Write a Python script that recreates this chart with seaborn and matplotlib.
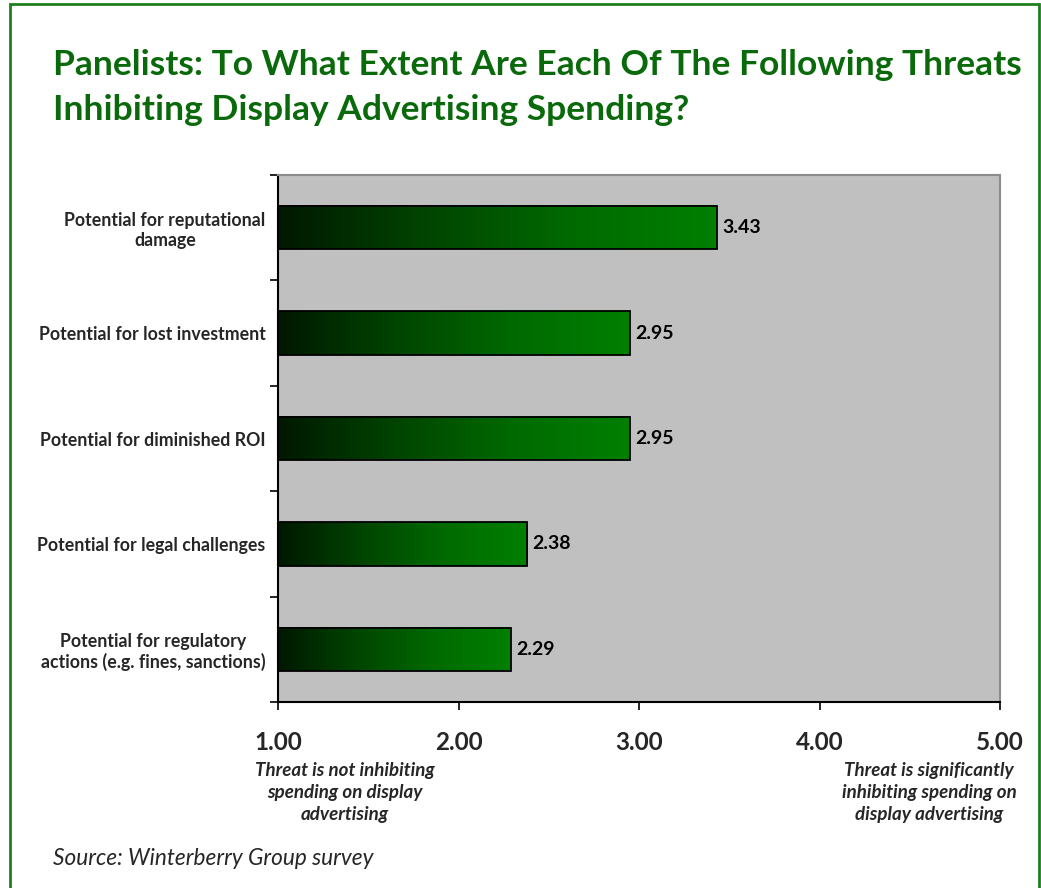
import matplotlib
matplotlib.use("Agg")
import matplotlib.pyplot as plt
import seaborn as sns
import numpy as np
import pandas as pd
from matplotlib.colors import LinearSegmentedColormap
from matplotlib.patches import Rectangle

categories = [
    "Potential for reputational\ndamage",
    "Potential for lost investment",
    "Potential for diminished ROI",
    "Potential for legal challenges",
    "Potential for regulatory\nactions (e.g. fines, sanctions)",
]
values = [3.43, 2.95, 2.95, 2.38, 2.29]
x_ticks = [1.0, 2.0, 3.0, 4.0, 5.0]
x_tick_labels = ["1.00", "2.00", "3.00", "4.00", "5.00"]
value_labels = ["3.43", "2.95", "2.95", "2.38", "2.29"]
title = ("Panelists: To What Extent Are Each Of The Following Threats\n"
         "Inhibiting Display Advertising Spending?")
low_note = "Threat is not inhibiting\nspending on display\nadvertising"
high_note = "Threat is significantly\ninhibiting spending on\ndisplay advertising"
source = "Source: Winterberry Group survey"

sns.set_theme(style="white")
plt.rcParams['font.family'] = ['Lato', 'DejaVu Sans']

W, H = 1041, 888
fig = plt.figure(figsize=(W / 100, H / 100), dpi=100)
fig.patch.set_facecolor("white")

ax = fig.add_axes([278 / W, 1 - 702 / H, (1000 - 278) / W, (702 - 175) / H])
df = pd.DataFrame({"cat": categories, "val": values})
sns.barplot(data=df, x="val", y="cat", ax=ax, orient="h", width=0.41,
            color="green", edgecolor="black", linewidth=1.3, zorder=3)

ax.set_facecolor("#c0c0c0")
cmap = LinearSegmentedColormap.from_list("g", ["#001800", "#004400", "#006a00", "#008000"])
grad = np.linspace(0, 1, 256).reshape(1, -1)
for p, v in zip(ax.patches, values):
    y0 = p.get_y()
    h = p.get_height()
    p.set_facecolor("none")
    ax.imshow(grad, cmap=cmap, extent=[1, v, y0 + h, y0], aspect="auto",
              zorder=2, interpolation="bilinear")

ax.set_xlim(1, 5)
ax.set_ylim(4.5, -0.5)

labels = ax.bar_label(ax.containers[0], labels=value_labels, padding=4,
                      fontsize=14, fontweight="bold", color="black")

ax.set_xticks(x_ticks)
ax.set_xticklabels(x_tick_labels, fontsize=17.5, fontweight="bold")
ax.tick_params(axis="x", which="major", direction="out", length=6, width=1.2,
               color="black", bottom=True, pad=15)
ax.set_yticks(range(len(categories)))
ax.set_yticklabels(categories, fontsize=12.8, fontweight="bold")
for lab in ax.get_yticklabels():
    lab.set_multialignment("center")
ax.set_yticks([i - 0.5 for i in range(len(categories) + 1)], minor=True)
ax.tick_params(axis="y", which="major", length=0, pad=9)
ax.tick_params(axis="y", which="minor", direction="out", length=6, width=1.2,
               color="black", left=True)
ax.set_xlabel("")
ax.set_ylabel("")
ax.grid(False)

for s in ["left", "bottom"]:
    ax.spines[s].set_color("black")
    ax.spines[s].set_linewidth(1.5)
for s in ["top", "right"]:
    ax.spines[s].set_color("#8c8c8c")
    ax.spines[s].set_linewidth(1.5)

fig.text(53 / W, 1 - 49 / H, title, ha="left", va="top", fontsize=25.5,
         fontweight="bold", color="#0a690a", linespacing=1.5)

fig.text(345 / W, 1 - 762 / H, low_note, ha="center", va="top", fontsize=13.5,
         fontweight="bold", style="italic", linespacing=1.36)
fig.text(929 / W, 1 - 762 / H, high_note, ha="center", va="top", fontsize=13.5,
         fontweight="bold", style="italic", linespacing=1.36)
fig.text(53 / W, 1 - 858 / H, source, ha="left", va="center", fontsize=16.3,
         style="italic")

fig.add_artist(Rectangle((10 / W, -0.05), (1039 - 10) / W, 1 - 4 / H + 0.05,
                         transform=fig.transFigure, fill=False,
                         edgecolor="#1f7f1f", linewidth=2))

fig.savefig("out.png", dpi=100)
